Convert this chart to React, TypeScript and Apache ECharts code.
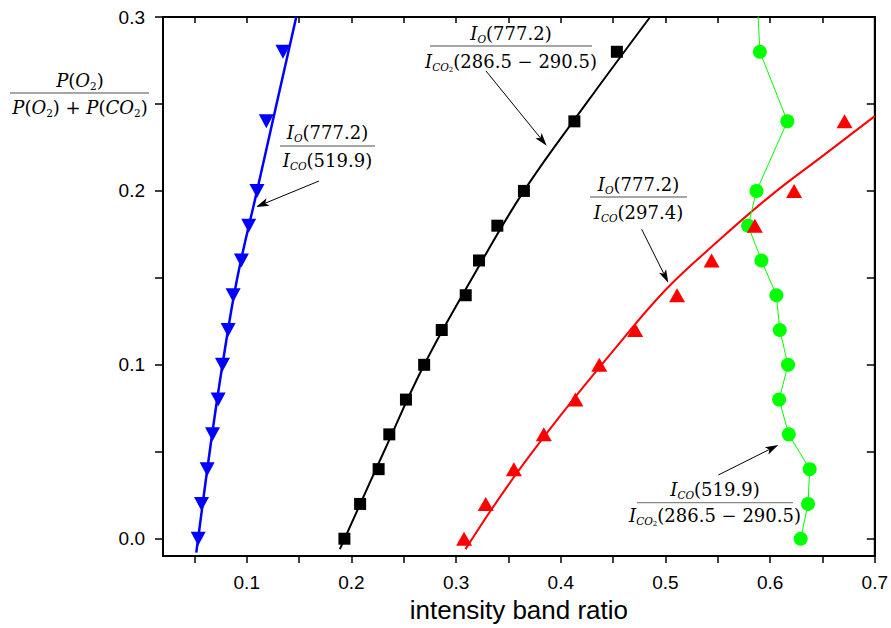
import React, { useEffect, useRef } from "react";
import * as echarts from "echarts";

// ---- data ----
const yLevels = [0, 0.02, 0.04, 0.06, 0.08, 0.1, 0.12, 0.14, 0.16, 0.18, 0.2, 0.24, 0.28];
const blueX = [0.0536, 0.0568, 0.0622, 0.0673, 0.0727, 0.0768, 0.0822, 0.087, 0.0949, 0.1019, 0.1098, 0.1187, 0.1346];
const blackX = [0.1933, 0.2083, 0.226, 0.2362, 0.2521, 0.2695, 0.2863, 0.3092, 0.3219, 0.3394, 0.3648, 0.413, 0.4536];
const redLevels = [0, 0.02, 0.04, 0.06, 0.08, 0.1, 0.12, 0.14, 0.16, 0.18, 0.2, 0.24];
const redX = [0.3076, 0.3283, 0.3552, 0.3838, 0.414, 0.4368, 0.4711, 0.5111, 0.5441, 0.5854, 0.6229, 0.6711];
const greenLevels = [0, 0.02, 0.04, 0.06, 0.08, 0.1, 0.12, 0.14, 0.16, 0.18, 0.2, 0.24, 0.28, 0.32];
const greenX = [0.6292, 0.6362, 0.6378, 0.6178, 0.6086, 0.6171, 0.6092, 0.606, 0.5917, 0.579, 0.587, 0.6165, 0.5902, 0.587];

// fitted curves
const blueFitX = [0.0518, 0.0646, 0.0768, 0.091, 0.1098, 0.1285, 0.1473];
const blueFitY = [-0.008, 0.05, 0.1, 0.15, 0.2, 0.25, 0.3];
const blackFitX = [0.189, 0.231, 0.2695, 0.3155, 0.3648, 0.424, 0.4854];
const blackFitY = [-0.006, 0.05, 0.1, 0.15, 0.2, 0.25, 0.3];
const redFitX = [0.309, 0.35, 0.4, 0.45, 0.5, 0.55, 0.6, 0.65, 0.7];
const redFitY = [-0.006, 0.031, 0.071, 0.108, 0.143, 0.171, 0.197, 0.22, 0.243];

const xLabelValues = [0.1, 0.2, 0.3, 0.4, 0.5, 0.6, 0.7];
const xTickValues = [0.05, 0.1, 0.15, 0.2, 0.25, 0.3, 0.35, 0.4, 0.45, 0.5, 0.55, 0.6, 0.65, 0.7];
const yLabelValues = [0, 0.1, 0.2, 0.3];
const yTickValues = [0, 0.05, 0.1, 0.15, 0.2, 0.25, 0.3];

const zip = (xs: number[], ys: number[]) => xs.map((x, i) => [x, ys[i]]);

const SERIF = "DejaVu Serif";
const TXT = "#222";
const rich: any = {
  it: { fontFamily: SERIF, fontSize: 18, fontStyle: "italic", lineHeight: 23, color: TXT },
  n: { fontFamily: SERIF, fontSize: 18, lineHeight: 23, color: TXT },
  s: { fontFamily: SERIF, fontSize: 10.5, fontStyle: "italic", lineHeight: 12, padding: [11, 0, 0, 0], color: TXT },
  sn: { fontFamily: SERIF, fontSize: 10.5, lineHeight: 12, padding: [11, 0, 0, 0], color: TXT },
  ss: { fontFamily: SERIF, fontSize: 7, lineHeight: 8, padding: [17, 0, 0, 0], color: TXT },
};

function frac(cx: number, cy: number, x1: number, x2: number, num: string, den: string, dn = -13, dd = 14) {
  return [
    { type: "text", x: cx, y: cy + dn, style: { text: num, rich, align: "center", verticalAlign: "middle" } },
    { type: "line", shape: { x1, y1: cy, x2, y2: cy }, style: { stroke: "#888", lineWidth: 1.3 } },
    { type: "text", x: cx, y: cy + dd, style: { text: den, rich, align: "center", verticalAlign: "middle" } },
  ];
}

function arrow(x1: number, y1: number, x2: number, y2: number) {
  const dx = x2 - x1, dy = y2 - y1;
  const len = Math.hypot(dx, dy);
  const ux = dx / len, uy = dy / len;
  const L = 13, W = 4;
  const bx = x2 - ux * L, by = y2 - uy * L;
  const nx = -uy, ny = ux;
  return [
    { type: "line", shape: { x1, y1, x2: bx + ux * 3, y2: by + uy * 3 }, style: { stroke: "#000", lineWidth: 1 } },
    {
      type: "polygon",
      shape: { points: [[x2, y2], [bx + nx * W, by + ny * W], [bx + ux * 3, by + uy * 3], [bx - nx * W, by - ny * W]] },
      style: { fill: "#000" },
    },
  ];
}

const IO = "{it|I}{s|O}{n|(777.2)}";
const ICO2 = "{it|I}{s|CO}{ss|2}{n|(286.5 − 290.5)}";

export default function App() {
  const ref = useRef<HTMLDivElement>(null);
  useEffect(() => {
    document.body.style.margin = "0";
    const chart = echarts.init(ref.current!, null, { renderer: "svg" });
    const mkLine = () => ({ show: true, onZero: false, lineStyle: { color: "#000", width: 2 } });
    const labelFont = { fontFamily: "Liberation Sans", fontSize: 19, color: "#000" };
    chart.setOption({
      animation: false,
      backgroundColor: "#fff",
      grid: { left: 163, right: 14, top: 17, bottom: 69, show: true, borderColor: "#000", borderWidth: 2, backgroundColor: "transparent" },
      xAxis: [
        {
          type: "value", min: 0.02, max: 0.7, position: "bottom",
          axisLine: mkLine(), splitLine: { show: false },
          axisTick: { show: true, inside: false, length: 7, customValues: xTickValues, lineStyle: { color: "#000", width: 1.5 } },
          axisLabel: { ...labelFont, margin: 17, customValues: xLabelValues, formatter: (v: number) => v.toFixed(1) },
          name: "intensity band ratio", nameLocation: "middle", nameGap: 40,
          nameTextStyle: { fontFamily: "Liberation Sans", fontSize: 26, color: "#000" },
        },
        {
          type: "value", min: 0.02, max: 0.7, position: "top",
          axisLine: mkLine(), splitLine: { show: false },
          axisTick: { show: true, inside: true, length: 6, customValues: xTickValues, lineStyle: { color: "#000", width: 1.5 } },
          axisLabel: { show: false },
        },
      ],
      yAxis: [
        {
          type: "value", min: -0.01, max: 0.3, position: "left",
          axisLine: mkLine(), splitLine: { show: false },
          axisTick: { show: true, inside: false, length: 8, customValues: yTickValues, lineStyle: { color: "#000", width: 1.5 } },
          axisLabel: { ...labelFont, margin: 18, customValues: yLabelValues, formatter: (v: number) => v.toFixed(1) },
        },
        {
          type: "value", min: -0.01, max: 0.3, position: "right",
          axisLine: mkLine(), splitLine: { show: false },
          axisTick: { show: true, inside: true, length: 8, customValues: yTickValues, lineStyle: { color: "#000", width: 1.5 } },
          axisLabel: { show: false },
        },
      ],
      series: [
        { type: "line", data: zip(blueFitX, blueFitY), smooth: 0.4, symbol: "none", lineStyle: { color: "#0000ff", width: 2.5 }, clip: true, z: 2 },
        { type: "line", data: zip(blackFitX, blackFitY), smooth: 0.4, symbol: "none", lineStyle: { color: "#000", width: 2 }, clip: true, z: 2 },
        { type: "line", data: zip(redFitX, redFitY), smooth: 0.4, symbol: "none", lineStyle: { color: "#ff0000", width: 2 }, clip: true, z: 2 },
        {
          type: "line", data: zip(greenX, greenLevels), symbol: "circle", symbolSize: 14, clip: true,
          lineStyle: { color: "#00ff00", width: 1 }, itemStyle: { color: "#00ff00" }, z: 3,
        },
        { type: "scatter", data: zip(blueX, yLevels), symbol: "triangle", symbolRotate: 180, symbolSize: [15, 14], itemStyle: { color: "#0000ff", opacity: 1 }, z: 4 },
        { type: "scatter", data: zip(blackX, yLevels), symbol: "rect", symbolSize: 12, itemStyle: { color: "#000", opacity: 1 }, z: 4 },
        { type: "scatter", data: zip(redX, redLevels), symbol: "triangle", symbolSize: [16, 14], itemStyle: { color: "#ff0000", opacity: 1 }, z: 4 },
      ],
      graphic: [
        ...frac(80, 93, 10, 149, "{it|P}{n|(}{it|O}{sn|2}{n|)}", "{it|P}{n|(}{it|O}{sn|2}{n|) + }{it|P}{n|(}{it|CO}{sn|2}{n|)}"),
        ...frac(327.5, 146, 280, 375, IO, "{it|I}{s|CO}{n|(519.9)}", -14, 14),
        ...frac(511, 46, 430, 592, IO, ICO2, -13, 15),
        ...frac(638.5, 197, 590, 687, IO, "{it|I}{s|CO}{n|(297.4)}", -13, 15),
        ...frac(715, 502.7, 637, 793, "{it|I}{s|CO}{n|(519.9)}", ICO2, -13, 13),
        ...arrow(319, 181, 256, 207),
        ...arrow(486, 71, 546.7, 145.7),
        ...arrow(641.7, 229.3, 668.3, 282.7),
        ...arrow(718.3, 475, 778.3, 445),
      ],
    });
    return () => chart.dispose();
  }, []);
  return <div ref={ref} style={{ width: 891, height: 628 }} />;
}
